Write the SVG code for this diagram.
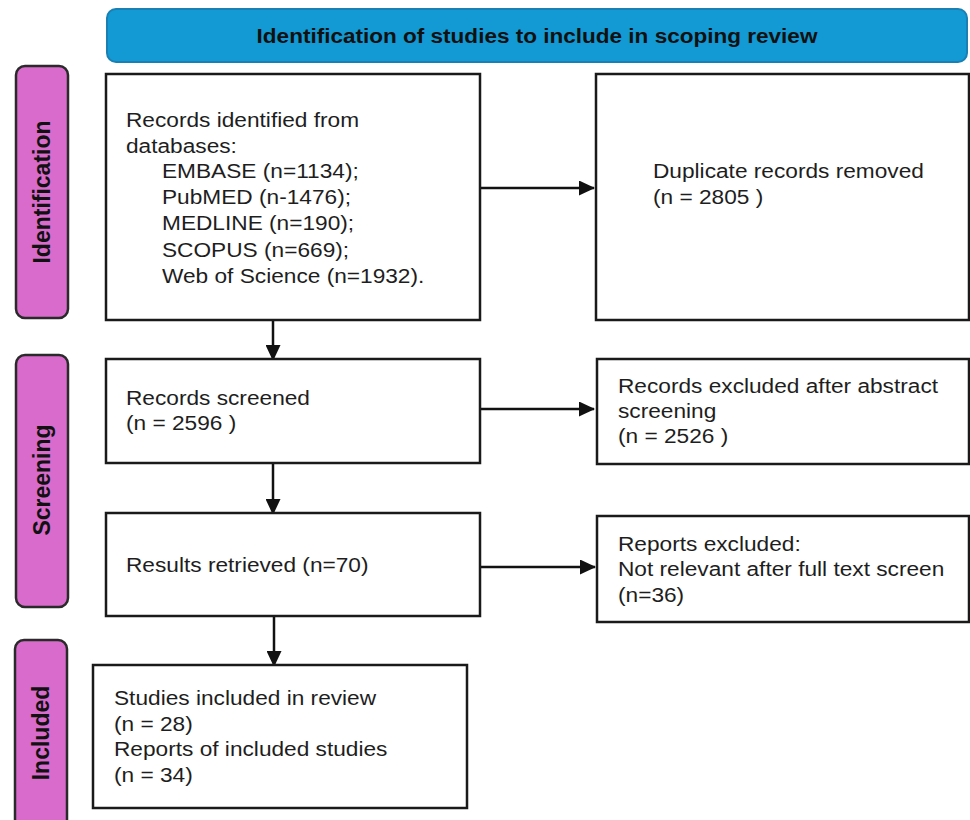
<svg xmlns="http://www.w3.org/2000/svg" width="970" height="820" viewBox="0 0 970 820">
<defs>
<marker id="ah" markerWidth="16" markerHeight="15" refX="15" refY="7.5" orient="auto" markerUnits="userSpaceOnUse">
<path d="M0,0 L16,7.5 L0,15 Z" fill="#111"/>
</marker>
<style>
.box{fill:#fff;stroke:#1a1a1a;stroke-width:2.5}
.side{fill:#d86bcb;stroke:#2a2a2a;stroke-width:2.5}
.t{font-family:"Liberation Sans",Arial,sans-serif;font-size:21px;fill:#1e1e1e}
.st{font-family:"Liberation Sans",Arial,sans-serif;font-size:23px;font-weight:bold;fill:#111}
.c{stroke:#111;stroke-width:2.5;fill:none}
</style>
</defs>
<rect width="970" height="820" fill="#fff"/>

<g id="header">
<rect x="107" y="9" width="860" height="53" rx="9" fill="#1399d3" stroke="#1a80b3" stroke-width="2"/>
<text transform="translate(537,42.5) scale(1.1,1)" text-anchor="middle" style="font-family:'Liberation Sans',Arial,sans-serif;font-size:20.5px;font-weight:bold;fill:#111">Identification of studies to include in scoping review</text>
</g>

<g id="side-identification">
<rect x="16" y="66" width="52" height="252" rx="9" class="side"/>
<text transform="translate(50,192) rotate(-90)" class="st" text-anchor="middle">Identification</text>
</g>
<g id="side-screening">
<rect x="16" y="355" width="52" height="252" rx="9" class="side"/>
<text transform="translate(50,480) rotate(-90)" class="st" text-anchor="middle">Screening</text>
</g>
<g id="side-included">
<rect x="15" y="640" width="52" height="200" rx="9" class="side"/>
<text transform="translate(49,733) rotate(-90)" class="st" text-anchor="middle">Included</text>
</g>

<g id="connectors">
<line x1="480" y1="188" x2="594" y2="188" class="c" marker-end="url(#ah)"/>
<line x1="273" y1="307" x2="273" y2="360" class="c" marker-end="url(#ah)"/>
<line x1="480" y1="409" x2="594" y2="409" class="c" marker-end="url(#ah)"/>
<line x1="273" y1="460" x2="273" y2="514" class="c" marker-end="url(#ah)"/>
<line x1="480" y1="567" x2="595" y2="567" class="c" marker-end="url(#ah)"/>
<line x1="274" y1="610" x2="274" y2="666" class="c" marker-end="url(#ah)"/>
</g>

<g id="records-identified">
<rect x="106" y="74" width="374" height="246" class="box"/>
<text class="t" transform="translate(126,127) scale(1.08,1)">Records identified from</text>
<text class="t" transform="translate(126,153) scale(1.08,1)">databases:</text>
<text class="t" transform="translate(162,178) scale(1.08,1)">EMBASE (n=1134);</text>
<text class="t" transform="translate(162,204) scale(1.08,1)">PubMED (n-1476);</text>
<text class="t" transform="translate(162,230) scale(1.08,1)">MEDLINE (n=190);</text>
<text class="t" transform="translate(162,257) scale(1.08,1)">SCOPUS (n=669);</text>
<text class="t" transform="translate(162,283) scale(1.08,1)">Web of Science (n=1932).</text>
</g>

<g id="duplicates-removed">
<rect x="596" y="74" width="373" height="246" class="box"/>
<text class="t" transform="translate(653,178) scale(1.08,1)">Duplicate records removed</text>
<text class="t" transform="translate(653,204) scale(1.08,1)">(n = 2805 )</text>
</g>

<g id="records-screened">
<rect x="106" y="359" width="374" height="104" class="box"/>
<text class="t" transform="translate(126,405) scale(1.08,1)">Records screened</text>
<text class="t" transform="translate(126,430) scale(1.08,1)">(n = 2596 )</text>
</g>

<g id="records-excluded">
<rect x="597" y="359" width="372" height="105" class="box"/>
<text class="t" transform="translate(618,393) scale(1.08,1)">Records excluded after abstract</text>
<text class="t" transform="translate(618,418) scale(1.08,1)">screening</text>
<text class="t" transform="translate(618,443) scale(1.08,1)">(n = 2526 )</text>
</g>

<g id="results-retrieved">
<rect x="106" y="513" width="374" height="103" class="box"/>
<text class="t" transform="translate(126,572) scale(1.08,1)">Results retrieved (n=70)</text>
</g>

<g id="reports-excluded">
<rect x="597" y="516" width="372" height="106" class="box"/>
<text class="t" transform="translate(618,551) scale(1.08,1)">Reports excluded:</text>
<text class="t" transform="translate(618,576) scale(1.08,1)">Not relevant after full text screen</text>
<text class="t" transform="translate(618,602) scale(1.08,1)">(n=36)</text>
</g>

<g id="studies-included">
<rect x="93" y="665" width="374" height="143" class="box"/>
<text class="t" transform="translate(114,705) scale(1.08,1)">Studies included in review</text>
<text class="t" transform="translate(114,731) scale(1.08,1)">(n = 28)</text>
<text class="t" transform="translate(114,756) scale(1.08,1)">Reports of included studies</text>
<text class="t" transform="translate(114,782) scale(1.08,1)">(n = 34)</text>
</g>
</svg>
